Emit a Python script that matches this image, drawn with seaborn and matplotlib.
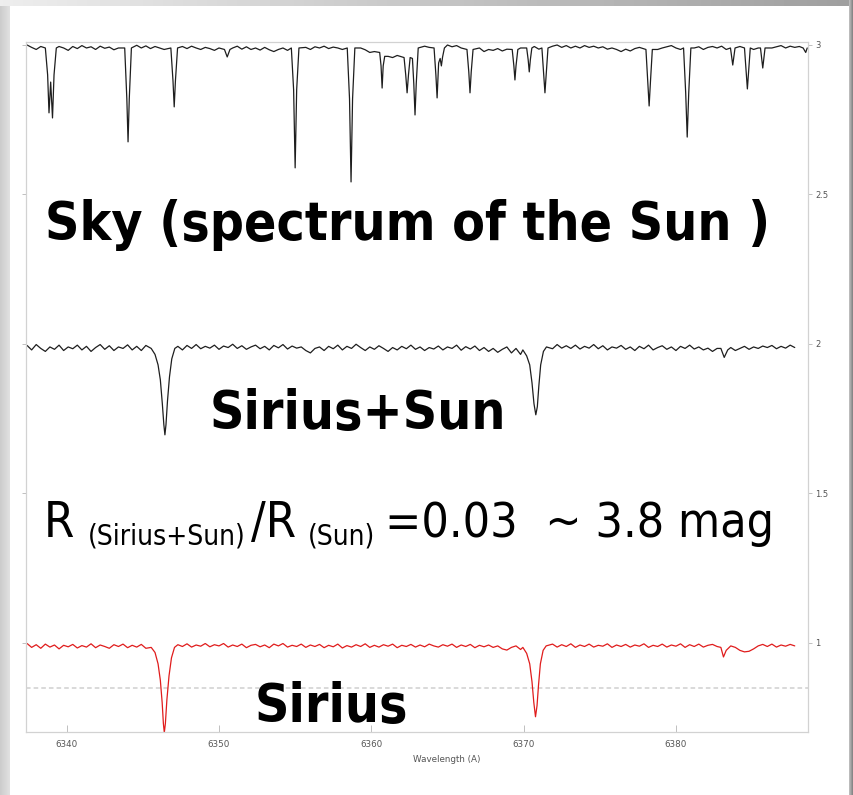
import numpy as np
import pandas as pd
import matplotlib
matplotlib.use("Agg")
import matplotlib.pyplot as plt
import seaborn as sns

# ---------------------------------------------------------------------------
# Data: normalised flux readings of three spectra around 6340-6388 Angstrom
# Continuum readings are on a regular wavelength sampling; absorption features
# are given as explicit (wavelength, flux) vertices.
# ---------------------------------------------------------------------------
grid_start = 6337.4
grid_step = 0.3

sky_continuum = [
    1.000, 0.992, 0.985, 0.995, 0.983, 0.990, 0.985, 0.995, 0.990, 0.982,
    0.995, 0.988, 0.998, 0.990, 0.994, 0.985, 0.996, 0.989, 0.993, 0.984,
    0.990, 0.985, 0.990, 0.995, 0.999, 0.990, 0.997, 0.988, 0.995, 0.990,
    0.985, 0.980, 0.975, 0.990, 0.995, 0.988, 0.996, 0.990, 0.985, 0.992,
    0.988, 0.982, 0.990, 0.980, 0.975, 0.990, 0.996, 0.986, 0.994, 0.985,
    0.990, 0.983, 0.992, 0.984, 0.978, 0.985, 0.990, 0.982, 0.988, 0.990,
    0.995, 0.992, 0.985, 0.994, 0.990, 0.996, 0.988, 0.993, 0.990, 0.985,
    0.990, 0.992, 0.985, 0.990, 0.984, 0.975, 0.978, 0.970, 0.968, 0.962,
    0.958, 0.965, 0.960, 0.962, 0.985, 0.995, 0.990, 0.996, 0.992, 0.990,
    0.995, 0.990, 1.000, 0.994, 0.998, 0.990, 0.996, 0.982, 0.985, 0.990,
    0.978, 0.985, 0.982, 0.988, 0.980, 0.986, 0.990, 0.984, 0.990, 0.992,
    0.988, 0.995, 0.986, 0.990, 0.994, 0.996, 1.000, 0.992, 0.998, 0.990,
    0.996, 0.990, 0.998, 0.992, 0.996, 0.990, 0.994, 0.986, 0.990, 0.985,
    0.978, 0.986, 0.980, 0.988, 0.992, 0.985, 0.990, 0.994, 0.985, 0.990,
    0.994, 0.998, 0.990, 0.985, 0.992, 0.996, 0.990, 0.994, 0.985, 0.992,
    0.995, 0.990, 0.996, 0.985, 0.992, 0.988, 0.995, 0.990, 0.996, 0.985,
    0.990, 0.992, 0.996, 0.990, 0.994, 0.998, 0.990, 0.996, 0.992, 0.995,
    0.985,
]
sky_line_wave = [
    6338.60, 6338.75, 6338.84, 6338.95, 6339.07, 6339.17, 6339.32,
    6343.81, 6343.95, 6344.03, 6344.11, 6344.25,
    6346.84, 6346.98, 6347.06, 6347.14, 6347.28,
    6350.36, 6350.54, 6350.72,
    6354.75, 6354.90, 6355.00, 6355.10, 6355.25,
    6358.42, 6358.57, 6358.67, 6358.77, 6358.92,
    6360.55, 6360.64, 6360.71, 6360.78, 6360.88,
    6362.15, 6362.26, 6362.35, 6362.44, 6362.55,
    6362.70, 6362.79, 6362.87, 6362.95, 6363.08,
    6364.12, 6364.24, 6364.32, 6364.42, 6364.52, 6364.60, 6364.68, 6364.80,
    6366.28, 6366.40, 6366.48, 6366.56, 6366.68,
    6369.25, 6369.36, 6369.43, 6369.50, 6369.62,
    6370.20, 6370.30, 6370.37, 6370.44, 6370.54,
    6371.20, 6371.32, 6371.40, 6371.48, 6371.60,
    6378.03, 6378.15, 6378.24, 6378.33, 6378.45,
    6380.50, 6380.64, 6380.74, 6380.84, 6380.98,
    6383.58, 6383.73, 6383.88,
    6384.50, 6384.61, 6384.69, 6384.77, 6384.88,
    6385.55, 6385.70, 6385.85,
    6388.35, 6388.52, 6388.62,
]
sky_line_flux = [
    0.990, 0.900, 0.773, 0.876, 0.756, 0.900, 0.990,
    0.990, 0.820, 0.676, 0.820, 0.990,
    0.990, 0.880, 0.793, 0.880, 0.990,
    0.985, 0.960, 0.985,
    0.990, 0.850, 0.589, 0.850, 0.990,
    0.990, 0.820, 0.542, 0.820, 0.990,
    0.975, 0.930, 0.856, 0.930, 0.962,
    0.958, 0.900, 0.840, 0.900, 0.958,
    0.955, 0.870, 0.766, 0.870, 0.990,
    0.990, 0.900, 0.823, 0.940, 0.955, 0.930, 0.960, 0.990,
    0.985, 0.910, 0.840, 0.910, 0.985,
    0.985, 0.930, 0.883, 0.930, 0.985,
    0.990, 0.950, 0.910, 0.950, 0.990,
    0.990, 0.900, 0.840, 0.900, 0.990,
    0.985, 0.880, 0.796, 0.880, 0.985,
    0.990, 0.840, 0.692, 0.840, 0.990,
    0.990, 0.933, 0.990,
    0.990, 0.910, 0.853, 0.910, 0.990,
    0.990, 0.923, 0.990,
    0.990, 0.975, 0.990,
]

mix_continuum = [
    0.995, 0.980, 0.998, 0.985, 0.975, 0.990, 0.982, 0.996, 0.978, 0.990,
    0.984, 0.996, 0.980, 0.992, 0.975, 0.988, 0.998, 0.982, 0.994, 0.978,
    0.990, 0.985, 0.997, 0.980, 0.992, 0.978, 0.995, 0.985, 0.978, 0.972,
    0.960, 0.970, 0.985, 0.992, 0.980, 0.995, 0.985, 0.998, 0.984, 0.992,
    0.986, 0.996, 0.982, 0.993, 0.988, 0.999, 0.985, 0.994, 0.982, 0.990,
    0.996, 0.984, 0.992, 0.980, 0.995, 0.987, 0.998, 0.983, 0.993, 0.986,
    0.990, 0.978, 0.970, 0.985, 0.990, 0.978, 0.992, 0.984, 0.996, 0.980,
    0.992, 0.985, 0.999, 0.988, 0.978, 0.990, 0.982, 0.994, 0.985, 0.975,
    0.988, 0.980, 0.992, 0.984, 0.996, 0.982, 0.990, 0.978, 0.988, 0.983,
    0.993, 0.980, 0.990, 0.985, 0.996, 0.979, 0.991, 0.983, 0.993, 0.978,
    0.988, 0.975, 0.985, 0.972, 0.982, 0.990, 0.970, 0.985, 0.965, 0.978,
    0.940, 0.800, 0.900, 0.975, 0.992, 0.984, 0.998, 0.986, 0.994, 0.985,
    0.996, 0.983, 0.992, 0.986, 0.998, 0.984, 0.994, 0.980, 0.990, 0.986,
    0.995, 0.982, 0.990, 0.978, 0.992, 0.984, 0.996, 0.980, 0.988, 0.994,
    0.982, 0.990, 0.978, 0.992, 0.985, 0.996, 0.983, 0.990, 0.980, 0.986,
    0.975, 0.985, 0.970, 0.980, 0.988, 0.978, 0.985, 0.992, 0.982, 0.990,
    0.985, 0.993, 0.988, 0.995, 0.984, 0.992, 0.986, 0.996, 0.988,
]
mix_line_wave = [
    6345.55, 6345.80, 6346.00, 6346.15, 6346.28, 6346.38, 6346.45,
    6346.52, 6346.62, 6346.75, 6346.90, 6347.10,
    6369.95, 6370.20, 6370.40, 6370.55, 6370.68, 6370.80,
    6370.90, 6371.00, 6371.12, 6371.30, 6371.50,
    6382.95, 6383.17, 6383.40,
]
mix_line_flux = [
    0.985, 0.965, 0.930, 0.880, 0.800, 0.730, 0.696,
    0.730, 0.810, 0.890, 0.950, 0.985,
    0.980, 0.960, 0.930, 0.870, 0.800, 0.763,
    0.790, 0.860, 0.930, 0.975, 0.990,
    0.985, 0.955, 0.980,
]

sirius_continuum = [
    0.998, 0.985, 0.994, 0.982, 0.996, 0.986, 0.993, 0.980, 0.992, 0.987,
    0.995, 0.983, 0.991, 0.986, 0.997, 0.984, 0.993, 0.988, 0.982, 0.994,
    0.988, 0.996, 0.984, 0.992, 0.986, 0.995, 0.982, 0.990, 0.985, 0.975,
    0.960, 0.970, 0.985, 0.994, 0.988, 0.997, 0.986, 0.993, 0.989, 0.998,
    0.987, 0.994, 0.990, 0.998, 0.986, 0.993, 0.988, 0.996, 0.984, 0.992,
    0.995, 0.987, 0.993, 0.984, 0.996, 0.990, 0.998, 0.986, 0.992, 0.988,
    0.996, 0.985, 0.993, 0.988, 0.995, 0.984, 0.992, 0.987, 0.996, 0.983,
    0.991, 0.986, 0.994, 0.988, 0.997, 0.985, 0.992, 0.986, 0.994, 0.989,
    0.996, 0.984, 0.992, 0.988, 0.995, 0.986, 0.993, 0.987, 0.996, 0.990,
    0.986, 0.994, 0.989, 0.996, 0.985, 0.993, 0.988, 0.995, 0.984, 0.992,
    0.987, 0.993, 0.985, 0.990, 0.980, 0.976, 0.985, 0.990, 0.978, 0.985,
    0.950, 0.800, 0.900, 0.975, 0.990, 0.996, 0.986, 0.994, 0.988, 0.997,
    0.985, 0.993, 0.988, 0.996, 0.986, 0.992, 0.989, 0.997, 0.985, 0.993,
    0.988, 0.995, 0.986, 0.993, 0.989, 0.997, 0.985, 0.992, 0.988, 0.996,
    0.986, 0.993, 0.989, 0.997, 0.985, 0.994, 0.988, 0.996, 0.986, 0.992,
    0.995, 0.988, 0.994, 0.986, 0.990, 0.985, 0.975, 0.970, 0.972, 0.980,
    0.990, 0.995, 0.988, 0.996, 0.986, 0.993, 0.989, 0.995, 0.990,
]
sirius_line_wave = [
    6345.55, 6345.80, 6346.00, 6346.15, 6346.27, 6346.35, 6346.41,
    6346.48, 6346.58, 6346.72, 6346.88, 6347.08,
    6369.95, 6370.20, 6370.40, 6370.55, 6370.67, 6370.78,
    6370.88, 6370.98, 6371.10, 6371.28, 6371.48,
    6382.95, 6383.12, 6383.30,
]
sirius_line_flux = [
    0.985, 0.968, 0.930, 0.875, 0.800, 0.730, 0.700,
    0.730, 0.810, 0.890, 0.950, 0.985,
    0.985, 0.965, 0.930, 0.870, 0.800, 0.753,
    0.790, 0.860, 0.930, 0.975, 0.990,
    0.985, 0.953, 0.975,
]

spectrum_names = ["Sky (Sun)", "Sirius+Sun", "Sirius"]
spectrum_offsets = [2.0, 1.0, 0.0]
spectrum_colors = ["#1e1e1e", "#1e1e1e", "#e01c1c"]

x_ticks = [6340, 6350, 6360, 6370, 6380]
y_ticks = [1, 1.5, 2, 2.5, 3]
y_tick_labels = ["1", "1.5", "2", "2.5", "3"]
reference_level = 0.85


def build_spectrum(continuum, line_wave, line_flux, offset, name):
    wave = grid_start + grid_step * np.arange(len(continuum))
    cont = np.asarray(continuum, dtype=float)
    lw = np.asarray(line_wave, dtype=float)
    # continuum samples that fall inside a feature are replaced by the feature vertices
    keep = np.array([np.min(np.abs(lw - w)) > 0.15 for w in wave])
    w_all = np.concatenate([wave[keep], lw])
    f_all = np.concatenate([cont[keep], np.asarray(line_flux, dtype=float)])
    order = np.argsort(w_all)
    return pd.DataFrame({"wavelength": w_all[order],
                         "flux": f_all[order] + offset,
                         "spectrum": name})


frames = [
    build_spectrum(sky_continuum, sky_line_wave, sky_line_flux, spectrum_offsets[0], spectrum_names[0]),
    build_spectrum(mix_continuum, mix_line_wave, mix_line_flux, spectrum_offsets[1], spectrum_names[1]),
    build_spectrum(sirius_continuum, sirius_line_wave, sirius_line_flux, spectrum_offsets[2], spectrum_names[2]),
]

# ---------------------------------------------------------------------------
sns.set_style("white")
plt.rcParams["font.family"] = ["DejaVu Sans"]

W, H = 854, 795
fig = plt.figure(figsize=(W / 100, H / 100), dpi=100)
fig.patch.set_facecolor("white")

# slide frame: soft grey bands on the left/top and a dark edge on the right
bg = fig.add_axes([0, 0, 1, 1], zorder=0)
bg.set_xlim(0, W)
bg.set_ylim(H, 0)
bg.axis("off")
top_band = np.linspace(0.93, 0.62, 256)[None, :]
bg.imshow(top_band, extent=(0, W, 6, 0), cmap="gray", vmin=0, vmax=1, aspect="auto")
left_band = np.linspace(0.80, 0.88, 16)[None, :]
bg.imshow(left_band, extent=(0, 10, H, 6), cmap="gray", vmin=0, vmax=1, aspect="auto")
right_band = np.linspace(0.75, 0.45, 8)[None, :]
bg.imshow(right_band, extent=(849, W, H, 0), cmap="gray", vmin=0, vmax=1, aspect="auto")

ax = fig.add_axes([26 / W, 1 - 732 / H, 782 / W, 690 / H], zorder=1)
ax.set_facecolor("white")

for df, color in zip(frames, spectrum_colors):
    sns.lineplot(data=df, x="wavelength", y="flux", ax=ax, color=color,
                 linewidth=0.9, estimator=None, sort=False, legend=False)

ax.axhline(reference_level, color="#cfcfcf", linewidth=1.1, dashes=(3, 2), zorder=0)

ax.set_xlim(6337.33, 6388.67)
ax.set_ylim(0.702, 3.01)

for side in ["left", "right", "top", "bottom"]:
    ax.spines[side].set_visible(True)
    ax.spines[side].set_color("#d2d2d2")
    ax.spines[side].set_linewidth(0.9)

ax.set_xticks(x_ticks)
ax.set_xticklabels([str(t) for t in x_ticks])
ax.tick_params(axis="x", direction="in", length=5, width=0.7, color="#c0c0c0",
               labelsize=6.3, labelcolor="#555555", pad=5.5, bottom=True)
ax.set_yticks(y_ticks)
ax.set_yticklabels(y_tick_labels)
ax.yaxis.set_ticks_position("both")
ax.tick_params(axis="y", direction="out", length=3, width=0.7, color="#c0c0c0",
               labelsize=6.0, labelcolor="#555555", left=True, right=True,
               labelleft=False, labelright=True, pad=2)
ax.set_xlabel("Wavelength (A)", fontsize=6.3, color="#555555")
ax.xaxis.set_label_coords((447 - 26) / 782, -0.034)
ax.set_ylabel("")


def put(x_px, y_px, s, **kw):
    return fig.text(x_px / W, 1 - y_px / H, s, va="baseline", ha="left", zorder=5, **kw)


bold = dict(fontsize=38.3, fontweight="bold", fontstretch="condensed",
            color="black", family=["DejaVu Sans"])
put(45, 240, "Sky (spectrum of the Sun )", **bold)
put(210, 429, "Sirius+Sun", **bold)
put(255, 722, "Sirius", **bold)

reg = dict(color="black", fontstretch="condensed", family=["DejaVu Sans"])
put(44, 537, "R", fontsize=35, **reg)
put(88, 544, "(Sirius+Sun)", fontsize=20.2, **reg)
put(251, 537, "/R", fontsize=35, **reg)
put(308, 544, "(Sun)", fontsize=20.2, **reg)
put(385, 537, "=0.03  ~ 3.8 mag", fontsize=34.7, **reg)

fig.savefig("out.png", dpi=100, facecolor="white")
